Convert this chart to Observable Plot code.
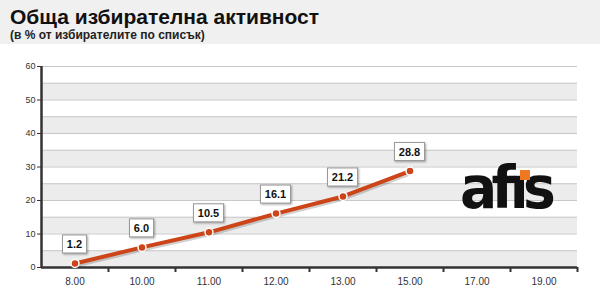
<!DOCTYPE html>
<html>
<head>
<meta charset="utf-8">
<script src="https://cdn.jsdelivr.net/npm/d3@7"></script>
<script src="https://cdn.jsdelivr.net/npm/@observablehq/plot@0.6"></script>
<style>
  html, body { margin: 0; padding: 0; background: #fff; }
  #wrap { position: relative; width: 600px; height: 300px; overflow: hidden; font-family: "Liberation Sans", Arial, sans-serif; }
  #head { height: 44px; background: #f0f0f0; padding-left: 10px; box-sizing: border-box; }
  #title { font-size: 21px; font-weight: bold; color: #111; line-height: 24px; padding-top: 5px; }
  #sub { font-size: 12px; font-weight: bold; color: #222; line-height: 12px; }
  #logo { position: absolute; left: 460px; top: 158px; font-family: "DejaVu Sans", sans-serif; font-weight: bold; font-size: 58px; letter-spacing: -6px; color: #111; line-height: 60px; transform: scaleX(0.95); transform-origin: left top; }
  #dot { position: absolute; left: 520px; top: 170px; width: 10px; height: 10px; background: #f07820; }
</style>
</head>
<body>
<div id="wrap">
  <div id="head">
    <div id="title">Обща избирателна активност</div>
    <div id="sub">(в % от избирателите по списък)</div>
  </div>
  <div id="chart"></div>
  <div id="logo">afıs</div>
  <div id="dot"></div>
</div>
<script>
// Polling hours and the turnout reported at each of them
const hours = ["8.00", "10.00", "11.00", "12.00", "13.00", "15.00", "17.00", "19.00"];
const turnout = [1.2, 6.0, 10.5, 16.1, 21.2, 28.8];
const yTicks = [0, 10, 20, 30, 40, 50, 60];

const data = turnout.map((v, i) => ({i, v}));
const orange = "#cc4418";

// width of a label in the box font
const measureCtx = document.createElement("canvas").getContext("2d");
measureCtx.font = "bold 11px 'Liberation Sans', Arial, sans-serif";

// value labels drawn inside small framed boxes above each point
function boxedLabels(index, scales, values) {
  const g = d3.create("svg:g");
  for (const i of index) {
    const label = data[i].v.toFixed(1);
    const w = Math.round(measureCtx.measureText(label).width) + 9;
    const h = 18;
    const cx = values.x[i], cy = values.y[i] - 19;
    const b = g.append("g").attr("transform", `translate(${cx},${cy})`);
    b.append("rect")
      .attr("x", -w / 2).attr("y", -h / 2).attr("width", w).attr("height", h)
      .attr("fill", "#fff").attr("stroke", "#9a9a9a")
      .attr("style", "filter: drop-shadow(1px 1px 1px rgba(0,0,0,0.35))");
    b.append("text")
      .attr("text-anchor", "middle").attr("y", 4)
      .attr("font-size", 11).attr("font-weight", "bold").attr("fill", "#111")
      .text(label);
  }
  return g.node();
}

const chart = Plot.plot({
  width: 600,
  height: 256,
  marginLeft: 41,
  marginRight: 23,
  marginTop: 22,
  marginBottom: 33,
  style: {fontFamily: "Liberation Sans, Arial, sans-serif", background: "transparent"},
  x: {domain: [-0.5, hours.length - 0.5], label: null},
  y: {domain: [0, 60], label: null},
  marks: [
    // alternating shaded bands every 5 points
    Plot.rect(d3.range(0, 60, 10), {y1: d => d, y2: d => d + 5, fill: "#ececec"}),
    Plot.ruleY(d3.range(5, 61, 5), {stroke: "#c8c8c8", strokeWidth: 1}),
    // axes
    Plot.axisY({ticks: yTicks, tickSize: 4, fontSize: 9, fill: "#333", stroke: "#333", tickPadding: 2, label: null}),
    Plot.axisX({ticks: d3.range(0.5, hours.length, 1), tickSize: 5, text: null, stroke: "#333", strokeWidth: 2, label: null}),
    Plot.axisX({ticks: d3.range(0, hours.length), tickSize: 0, tickPadding: 10, tickFormat: i => hours[i], fontSize: 10, fill: "#333", label: null}),
    Plot.ruleY([0], {stroke: "#333", strokeWidth: 2.5}),
    Plot.ruleX([-0.5], {stroke: "#333", strokeWidth: 2.5}),
    // turnout line with soft shadow
    Plot.line(data, {x: "i", y: "v", stroke: "#000", strokeOpacity: 0.18, strokeWidth: 4, dx: 1, dy: 2}),
    Plot.line(data, {x: "i", y: "v", stroke: orange, strokeWidth: 4}),
    Plot.dot(data, {x: "i", y: "v", r: 4, fill: orange, stroke: "#fff", strokeWidth: 1.5}),
    // value boxes
    Plot.text(data, {x: "i", y: "v", text: d => d.v.toFixed(1), render: boxedLabels})
  ]
});
document.getElementById("chart").appendChild(chart);
</script>
</body>
</html>
